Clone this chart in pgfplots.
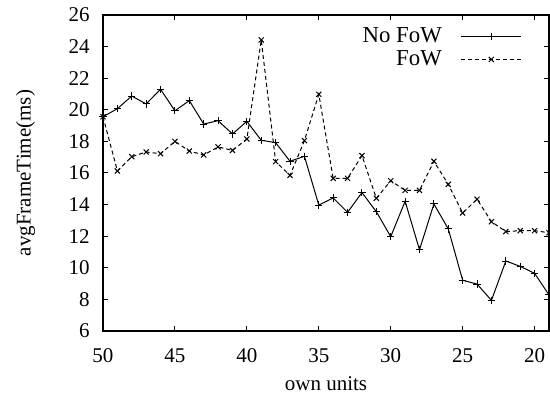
\documentclass[border=0pt]{standalone}
\usepackage{fontspec}
\setmainfont{Liberation Serif}
\usepackage{pgfplots}
\pgfplotsset{compat=1.18}
\usetikzlibrary{calc}

\begin{document}
\fontsize{10.5}{12}\selectfont
\begin{tikzpicture}
\begin{axis}[scale only axis,width=223pt,height=158pt,
  x dir=reverse,xmin=19,xmax=50,ymin=6,ymax=26,
  xtick={20,25,...,50},ytick={6,8,...,26},
  tick align=inside,major tick length=2.5pt,
  xtick pos=both,ytick pos=both,
  axis line style={line width=0.6pt},
  tick style={line width=0.5pt,black},
  /pgf/number format/assume math mode=true,
  tick label style={font=\fontsize{10.5}{12}\selectfont},
  xticklabel style={yshift=-5pt},
  yticklabel style={xshift=-3pt},
  xlabel={own units},ylabel={avgFrameTime(ms)},
  xlabel style={yshift=0pt},
  ylabel style={yshift=9.5pt},
  legend style={draw=none,fill=none,at={(rel axis cs:0.94,0.975)},anchor=north east,
    font=\fontsize{11.4}{13}\selectfont,row sep=-1.5pt,inner sep=0pt},
  legend cell align=right,legend plot pos=right,
  legend image code/.code={\path (0pt,0pt);
    \draw[#1] (7.5pt,0pt) -- (37.5pt,0pt);
    \draw[#1,solid] plot coordinates {(22.5pt,0pt)};}]
\addplot[black,line width=0.5pt,mark=+,mark size=1.8pt] coordinates {
(50,19.56)(49,20.07)(48,20.87)(47,20.37)(46,21.3)(45,19.94)(44,20.58)(43,19.1)
(42,19.31)(41,18.47)(40,19.27)(39,18.07)(38,17.92)(37,16.74)(36,17.06)(35,13.97)
(34,14.42)(33,13.51)(32,14.76)(31,13.55)(30,11.97)(29,14.21)(28,11.14)(27,14.04)
(26,12.46)(25,9.21)(24,8.97)(23,7.94)(22,10.43)(21,10.09)(20,9.65)(19,8.28)};
\addplot[black,line width=0.5pt,dash pattern=on 2pt off 1.5pt,mark=x,mark size=1.8pt,
  mark options={solid}] coordinates {
(50,19.56)(49,16.13)(48,17.03)(47,17.33)(46,17.22)(45,18.0)(44,17.39)(43,17.14)
(42,17.65)(41,17.43)(40,18.15)(39,24.42)(38,16.72)(37,15.85)(36,18.05)(35,20.98)
(34,15.66)(33,15.66)(32,17.1)(31,14.4)(30,15.51)(29,14.9)(28,14.9)(27,16.74)
(26,15.28)(25,13.47)(24,14.34)(23,12.92)(22,12.29)(21,12.35)(20,12.35)(19,12.22)};
\legend{No FoW,FoW}
\coordinate (sw) at (rel axis cs:0,0);
\coordinate (ne) at (rel axis cs:1,1);
\end{axis}
\pgfresetboundingbox
\path[use as bounding box] ($(sw)+(-51.5pt,-34.5pt)$) rectangle ($(ne)+(0.5pt,7.5pt)$);
\end{tikzpicture}
\end{document}
